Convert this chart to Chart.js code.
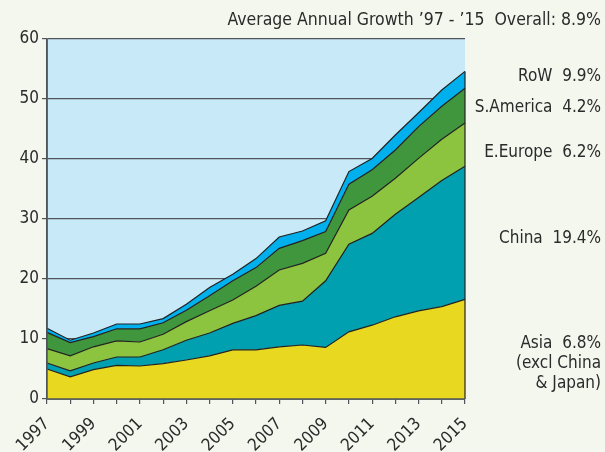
<!DOCTYPE html>
<html>
<head>
<meta charset="utf-8">
<script src="https://cdn.jsdelivr.net/npm/chart.js@4.4.1/dist/chart.umd.min.js"></script>
<style>
  html, body { margin: 0; padding: 0; background: #f3f7ee; }
</style>
</head>
<body>
<canvas id="growth-chart" width="605" height="452"></canvas>
<script>
const years = ["1997", "1998", "1999", "2000", "2001", "2002", "2003", "2004", "2005", "2006",
  "2007", "2008", "2009", "2010", "2011", "2012", "2013", "2014", "2015"];

// stacked from the bottom up
const asia = [5.0, 3.7, 4.9, 5.6, 5.5, 5.9, 6.5, 7.2, 8.2, 8.2, 8.7, 9.0, 8.6, 11.2, 12.3, 13.7, 14.7, 15.4, 16.6];
const china = [1.0, 1.0, 1.1, 1.4, 1.5, 2.3, 3.3, 3.8, 4.4, 5.7, 6.9, 7.3, 11.1, 14.6, 15.3, 17.1, 18.9, 21.0, 22.2];
const eEurope = [2.4, 2.5, 2.7, 2.7, 2.5, 2.6, 3.1, 3.7, 3.9, 4.9, 5.9, 6.3, 4.6, 5.7, 6.2, 6.0, 6.5, 6.9, 7.2];
const sAmerica = [2.7, 2.2, 1.7, 2.0, 2.2, 1.9, 1.9, 2.5, 3.2, 3.1, 3.6, 3.8, 3.6, 4.3, 4.4, 4.7, 5.3, 5.5, 5.8];
const row = [0.7, 0.4, 0.6, 0.8, 0.8, 0.7, 1.0, 1.4, 1.1, 1.5, 1.9, 1.6, 1.8, 2.1, 1.9, 2.5, 2.3, 2.7, 2.8];

const yTicks = [0, 10, 20, 30, 40, 50, 60];

const title = "Average Annual Growth \u201997 - \u201915  Overall: 8.9%";
// right-hand labels, placed against the value axis
const sideLabels = [
  { text: "RoW  9.9%", at: 53.8 },
  { text: "S.America  4.2%", at: 48.5 },
  { text: "E.Europe  6.2%", at: 41.0 },
  { text: "China  19.4%", at: 26.8 },
  { text: "Asia  6.8%", at: 9.3 },
  { text: "(excl China", at: 5.9 },
  { text: "& Japan)", at: 2.5 },
];

const FONT = "'DejaVu Sans Condensed', 'DejaVu Sans', sans-serif";
const INK = "#2b2b2b";
const AXIS = "#4f5559";

function area(label, data, color, fill) {
  return {
    label, data, fill,
    backgroundColor: color,
    borderColor: "#222",
    borderWidth: 1.2,
    pointRadius: 0,
    tension: 0,
  };
}

const decorations = {
  id: "decorations",
  beforeDraw(chart) {
    const { ctx, chartArea: a } = chart;
    ctx.save();
    ctx.fillStyle = "#c8e9f8";
    ctx.fillRect(a.left, a.top, a.right - a.left, a.bottom - a.top);
    ctx.restore();
  },
  afterDatasetsDraw(chart) {
    const { ctx, chartArea: a, scales } = chart;
    const last = years.length - 1;
    const total = asia[last] + china[last] + eEurope[last] + sAmerica[last] + row[last];
    ctx.save();
    ctx.strokeStyle = "#222";
    ctx.lineWidth = 1.2;
    ctx.beginPath();
    ctx.moveTo(a.right, scales.y.getPixelForValue(total));
    ctx.lineTo(a.right, a.bottom);
    ctx.stroke();

    ctx.strokeStyle = AXIS;
    ctx.lineWidth = 1.5;
    ctx.beginPath();
    ctx.moveTo(a.left, a.top);
    ctx.lineTo(a.left, a.bottom);
    ctx.lineTo(a.right, a.bottom);
    ctx.stroke();

    ctx.fillStyle = INK;
    ctx.textAlign = "right";
    ctx.textBaseline = "middle";
    ctx.font = "17.5px " + FONT;
    ctx.fillText(title, 601, a.top - 19);
    ctx.font = "17px " + FONT;
    sideLabels.forEach(l => {
      ctx.fillText(l.text, 601, scales.y.getPixelForValue(l.at));
    });
    ctx.restore();
  },
};

new Chart(document.getElementById("growth-chart"), {
  type: "line",
  data: {
    labels: years,
    datasets: [
      area("Asia (excl China & Japan)", asia, "#e8d820", "origin"),
      area("China", china, "#00a0b1", "-1"),
      area("E.Europe", eEurope, "#8cc43f", "-1"),
      area("S.America", sAmerica, "#3f963c", "-1"),
      area("RoW", row, "#00b0ec", "-1"),
    ],
  },
  options: {
    responsive: false,
    animation: false,
    layout: { padding: { top: 39, right: 140, left: 0, bottom: 0 } },
    plugins: { legend: { display: false }, tooltip: { enabled: false } },
    scales: {
      x: {
        offset: false,
        grid: { drawOnChartArea: false, color: AXIS, tickLength: 5, lineWidth: 1.2 },
        border: { display: true, color: AXIS, width: 1.5 },
        ticks: {
          autoSkip: false,
          minRotation: 45,
          maxRotation: 45,
          padding: 10,
          color: INK,
          font: { family: FONT, size: 17 },
          callback: (v, i) => (i % 2 === 0 ? years[i] : ""),
        },
        afterFit: s => { s.height = 53; },
      },
      y: {
        stacked: true,
        min: 0,
        max: 60,
        afterBuildTicks: s => { s.ticks = yTicks.map(v => ({ value: v })); },
        grid: { color: AXIS, lineWidth: 1.2, tickLength: 5 },
        border: { display: true, color: AXIS, width: 1.5 },
        ticks: { color: INK, padding: 3, font: { family: FONT, size: 17 } },
        afterFit: s => { s.width = 47; },
      },
    },
  },
  plugins: [decorations],
});
</script>
</body>
</html>
